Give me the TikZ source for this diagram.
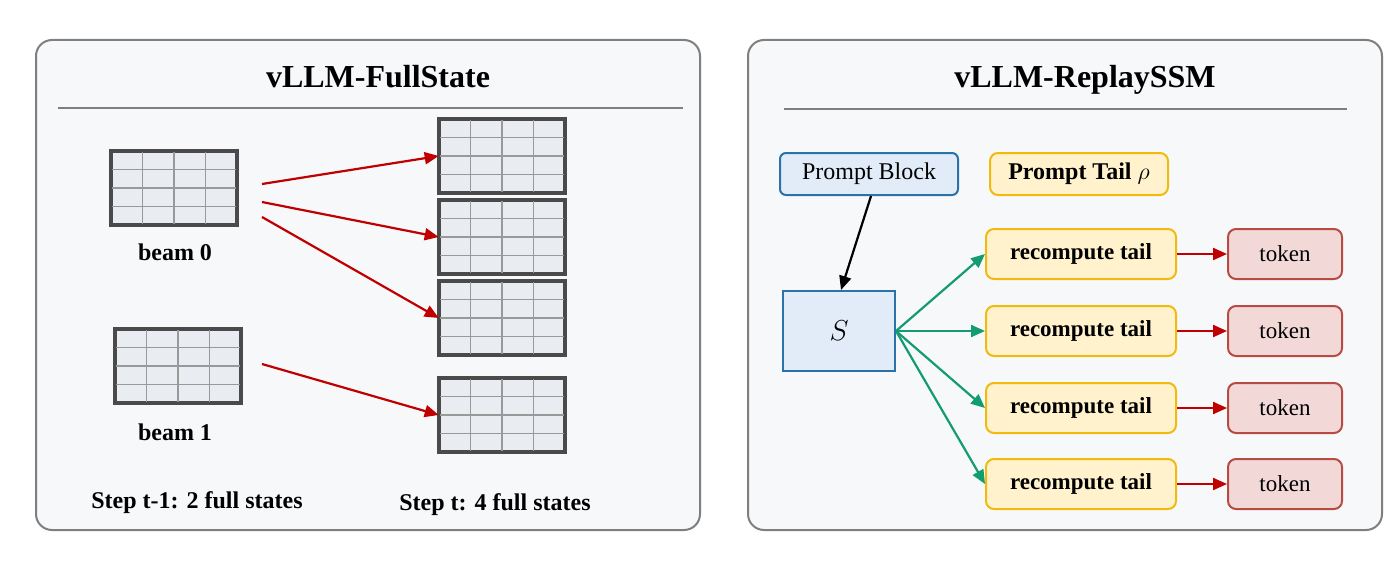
\documentclass[tikz,border=0pt]{standalone}
\usepackage{fontspec}
\setmainfont{Liberation Serif}
\usetikzlibrary{calc,arrows.meta}
\definecolor{panelbg}{HTML}{F7F8FA}
\definecolor{panelln}{HTML}{7F7F7F}
\definecolor{gridfill}{HTML}{E9ECF1}
\definecolor{gridbd}{HTML}{4A4A4A}
\definecolor{arred}{HTML}{C00000}
\definecolor{argreen}{HTML}{139B72}
\definecolor{bluefill}{HTML}{E1ECF8}
\definecolor{bluebd}{HTML}{2A72A8}
\definecolor{yelfill}{HTML}{FFF2CC}
\definecolor{yelbd}{HTML}{F2B90F}
\definecolor{redfill}{HTML}{F2D9D8}
\definecolor{redbd}{HTML}{B84A44}
\tikzset{
 panel/.style={draw=panelln,fill=panelbg,rounded corners=8pt,line width=1pt},
 statebox/.style={draw=gridbd,fill=gridfill,line width=1.3pt,minimum width=62pt,minimum height=36pt,inner sep=0pt},
 gl/.style={draw=gray!80,line width=0.6pt},
 redarr/.style={draw=arred,line width=1.1pt,-{Triangle[length=7pt,width=6pt]}},
 grnarr/.style={draw=argreen,line width=1.1pt,-{Triangle[length=7pt,width=6pt]}},
 blkarr/.style={draw=black,line width=1.1pt,-{Triangle[length=7pt,width=6pt]}},
 bluebox/.style={draw=bluebd,fill=bluefill,line width=1pt,rounded corners=3pt,font=\fontsize{12}{14}\selectfont},
 yelbox/.style={draw=yelbd,fill=yelfill,line width=1pt,rounded corners=4pt,minimum width=95pt,minimum height=25pt,font=\bfseries\fontsize{11.5}{14}\selectfont},
 tokbox/.style={draw=redbd,fill=redfill,line width=1pt,rounded corners=4pt,minimum width=57pt,minimum height=25pt,font=\fontsize{11.5}{14}\selectfont},
 lab/.style={font=\bfseries\fontsize{12}{14}\selectfont},
 ttl/.style={font=\bfseries\fontsize{16}{18}\selectfont},
}
\newcommand{\gridlines}[1]{%
 \foreach \i in {1,2,3}{
  \draw[gl] ($(#1.north west)!\i/4!(#1.north east)$) -- ($(#1.south west)!\i/4!(#1.south east)$);
  \draw[gl] ($(#1.north west)!\i/4!(#1.south west)$) -- ($(#1.north east)!\i/4!(#1.south east)$);}
 \draw[draw=gridbd,line width=1.3pt] (#1.north west) rectangle (#1.south east);}
\begin{document}
\begin{tikzpicture}[x=0.5pt,y=-0.5pt]
\useasboundingbox (0,0) rectangle (1400,583);
% left panel
\draw[panel] (36,40) rectangle (700,530);
\node[ttl] (t1) at (378,77) {vLLM-FullState};
\draw[panelln,line width=1pt] (58,108) -- (683,108);
\node[statebox] (b0) at (174,188) {}; \gridlines{b0}
\node[statebox] (b1) at (178,366) {}; \gridlines{b1}
\node[statebox] (r1) at (502,156) {}; \gridlines{r1}
\node[statebox] (r2) at (502,237) {}; \gridlines{r2}
\node[statebox] (r3) at (502,318) {}; \gridlines{r3}
\node[statebox] (r4) at (502,415) {}; \gridlines{r4}
\node[lab] (l0) at (175,252) {beam 0};
\node[lab] (l1) at (175,432) {beam 1};
\node[lab] (s1) at (197,503) {Step t-1: 2 full states};
\node[lab] (s2) at (495,505) {Step t: 4 full states};
\coordinate (o1) at (262,184);
\coordinate (o2) at (262,202);
\coordinate (o3) at (262,217);
\coordinate (o4) at (262,364);
\draw[redarr] (o1) -- (r1.west);
\draw[redarr] (o2) -- (r2.west);
\draw[redarr] (o3) -- (r3.west);
\draw[redarr] (o4) -- (r4.west);
% right panel
\draw[panel] (748,40) rectangle (1382,530);
\node[ttl] (t2) at (1085,80) {vLLM-ReplaySSM};
\draw[panelln,line width=1pt] (784,109) -- (1347,109);
\node[bluebox,minimum width=89pt,minimum height=21pt] (pb) at (869,174) {Prompt Block};
\node[yelbox,minimum width=89pt,minimum height=21pt,font=\bfseries\fontsize{12}{14}\selectfont] (pt) at (1079,174) {Prompt Tail $\rho$};
\node[draw=bluebd,fill=bluefill,line width=1pt,minimum width=56pt,minimum height=40pt,font=\fontsize{14}{16}\selectfont] (S) at (839,331) {$S$};
\foreach \n/\y in {1/254,2/331,3/408,4/484}{
 \node[yelbox] (rc\n) at (1081,\y) {recompute tail};
 \node[tokbox] (tk\n) at (1285,\y) {token};
 \draw[grnarr] (S.east) -- (rc\n.west);
 \draw[redarr] (rc\n.east) -- (tk\n.west);
}
\draw[blkarr] ($(pb.south)+(2,0)$) -- ($(S.north)+(2,0)$);
\end{tikzpicture}
\end{document}
